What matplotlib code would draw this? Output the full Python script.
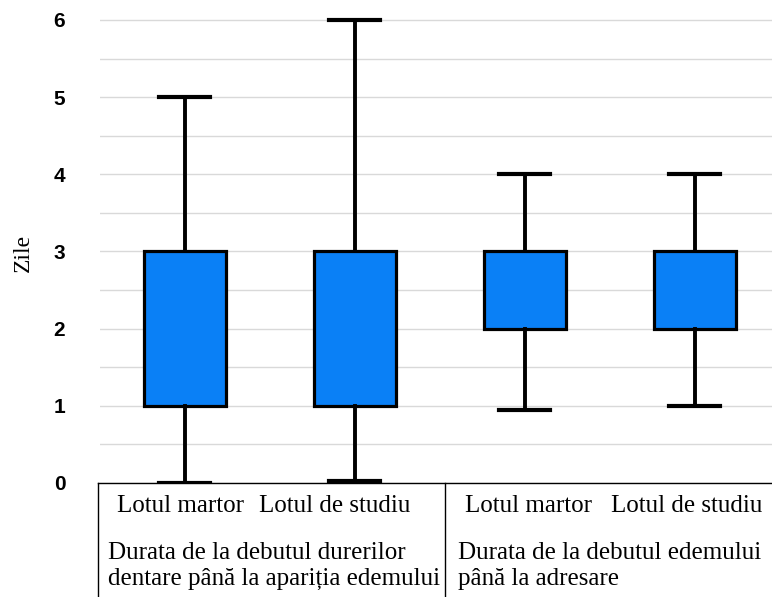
import matplotlib
matplotlib.use("Agg")
import matplotlib.pyplot as plt
from matplotlib.lines import Line2D

categories = ["Lotul martor", "Lotul de studiu", "Lotul martor", "Lotul de studiu"]
groups = ["Durata de la debutul durerilor\ndentare până la apariția edemului",
          "Durata de la debutul edemului\npână la adresare"]
whislo = [0.0, 0.03, 0.95, 1.0]
q1 = [1, 1, 2, 2]
med = [2, 2, 2, 2]
q3 = [3, 3, 3, 3]
whishi = [5, 6, 4, 4]
yticks = [0, 1, 2, 3, 4, 5, 6]

W, H = 772, 597
fig = plt.figure(figsize=(W / 100, H / 100), dpi=100)
ax_left, ax_right, ax_bot, ax_top = 100, 772, 483, 5
ax = fig.add_axes([ax_left / W, 1 - ax_bot / H, (ax_right - ax_left) / W, (ax_bot - ax_top) / H])

stats = []
for i in range(len(categories)):
    stats.append(dict(label=categories[i], whislo=whislo[i], q1=q1[i], med=med[i],
                      q3=q3[i], whishi=whishi[i], fliers=[]))
pos = [1, 2, 3, 4]
ax.bxp(stats, positions=pos, widths=0.48, patch_artist=True, showfliers=False,
       boxprops=dict(facecolor="#0a80f6", edgecolor="black", linewidth=2.3),
       whiskerprops=dict(color="black", linewidth=2.8),
       capprops=dict(color="black", linewidth=3.0),
       medianprops=dict(linewidth=0, alpha=0),
       capwidths=0.3, zorder=3)

ax.set_xlim(0.5, 4.453)
per = (ax_bot - ax_top) / 77.17
ax.set_ylim(0, per)
ax.set_yticks(yticks)
ax.set_yticklabels([str(t) for t in yticks], fontfamily="Liberation Sans",
                   fontweight="bold", fontsize=15)
ax.set_yticks([0.5, 1.5, 2.5, 3.5, 4.5, 5.5], minor=True)
ax.tick_params(axis="y", which="both", length=0, pad=25)
ax.set_xticks([])
ax.grid(axis="y", which="both", color="#d9d9d9", linewidth=1.0, zorder=0)
for s in ax.spines.values():
    s.set_visible(False)
ax.set_ylabel("Zile", fontfamily="Liberation Serif", fontsize=17)
ax.yaxis.set_label_coords(-(100 - 34) / 672, (483 - 253) / 478)

# table below
def fx(x):
    return x / W

def fy(y):
    return 1 - y / H

lw = 1.0
fig.add_artist(Line2D([fx(98), fx(772)], [fy(483), fy(483)], color="black", lw=lw))
fig.add_artist(Line2D([fx(98), fx(98)], [fy(483), fy(597)], color="black", lw=lw))
fig.add_artist(Line2D([fx(445), fx(445)], [fy(483), fy(597)], color="black", lw=lw))

tkw = dict(fontfamily="Liberation Serif", fontsize=18, va="baseline", ha="left")
cat_x = [117, 259, 465, 611]
for x, c in zip(cat_x, categories):
    fig.text(fx(x), fy(512), c, **tkw)
grp_x = [108, 458]
for x, g in zip(grp_x, groups):
    l1, l2 = g.split("\n")
    fig.text(fx(x), fy(559), l1, **tkw)
    fig.text(fx(x), fy(585), l2, **tkw)

fig.savefig("out.png", dpi=100)
